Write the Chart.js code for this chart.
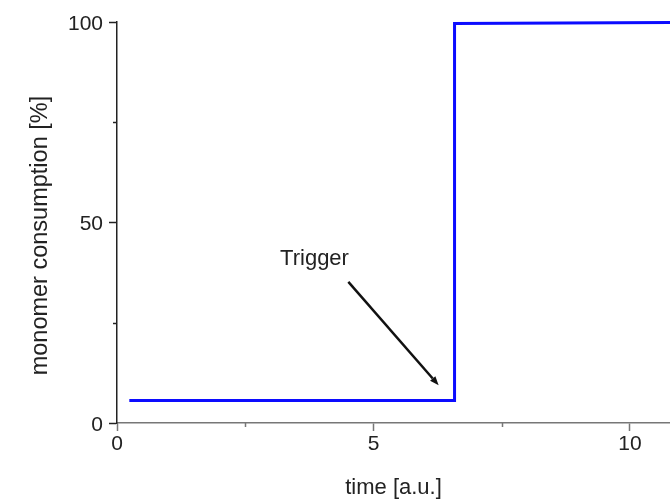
<!DOCTYPE html>
<html>
<head>
<meta charset="utf-8">
<script src="https://cdn.jsdelivr.net/npm/chart.js@4/dist/chart.umd.min.js"></script>
<style>
  html, body { margin: 0; padding: 0; background: #ffffff; }
  #wrap { width: 670px; height: 500px; position: relative; }
</style>
</head>
<body>
<div id="wrap"><canvas id="c"></canvas></div>
<script>
// ---- data ----
const timeValues = [0.24, 6.58, 6.58, 10.78];
const consumptionValues = [5.6, 5.6, 99.6, 99.9];
const xTickLabels = [0, 5, 10];
const yTickLabels = [0, 50, 100];
const xMinorTicks = [2.5, 7.5];
const yMinorTicks = [25, 75];
const annotationText = 'Trigger';
const annotationTextPos = [3.85, 40.9];
const arrowFrom = [4.51, 35.2];
const arrowTo = [6.27, 9.4];

const FONT = "'Liberation Sans', Arial, sans-serif";

const points = timeValues.map((t, i) => ({ x: t, y: consumptionValues[i] }));

const extras = {
  id: 'extras',
  afterDraw(chart) {
    const { ctx, scales: { x, y } } = chart;
    ctx.save();
    // minor ticks
    ctx.lineWidth = 1.5;
    ctx.strokeStyle = '#777777';
    xMinorTicks.forEach(v => {
      const px = Math.round(x.getPixelForValue(v)) + 0.5;
      ctx.beginPath();
      ctx.moveTo(px, y.bottom);
      ctx.lineTo(px, y.bottom + 4);
      ctx.stroke();
    });
    ctx.strokeStyle = '#222222';
    yMinorTicks.forEach(v => {
      const py = Math.round(y.getPixelForValue(v)) + 0.5;
      ctx.beginPath();
      ctx.moveTo(x.left, py);
      ctx.lineTo(x.left - 4, py);
      ctx.stroke();
    });
    // annotation text
    ctx.fillStyle = '#222222';
    ctx.font = '22px ' + FONT;
    ctx.textAlign = 'center';
    ctx.textBaseline = 'middle';
    ctx.fillText(annotationText, x.getPixelForValue(annotationTextPos[0]), y.getPixelForValue(annotationTextPos[1]));
    // arrow
    const x1 = x.getPixelForValue(arrowFrom[0]), y1 = y.getPixelForValue(arrowFrom[1]);
    const x2 = x.getPixelForValue(arrowTo[0]), y2 = y.getPixelForValue(arrowTo[1]);
    const ang = Math.atan2(y2 - y1, x2 - x1);
    const head = 9, hw = 3.5;
    const bx = x2 - head * Math.cos(ang), by = y2 - head * Math.sin(ang);
    ctx.strokeStyle = '#111111';
    ctx.lineWidth = 2.5;
    ctx.beginPath();
    ctx.moveTo(x1, y1);
    ctx.lineTo(bx, by);
    ctx.stroke();
    ctx.fillStyle = '#111111';
    ctx.beginPath();
    ctx.moveTo(x2, y2);
    ctx.lineTo(bx + hw * Math.sin(ang), by - hw * Math.cos(ang));
    ctx.lineTo(bx - hw * Math.sin(ang), by + hw * Math.cos(ang));
    ctx.closePath();
    ctx.fill();
    ctx.restore();
  }
};

new Chart(document.getElementById('c'), {
  type: 'line',
  data: {
    datasets: [{
      data: points,
      borderColor: '#0c0cff',
      borderWidth: 3,
      pointRadius: 0,
      fill: false,
      tension: 0,
      clip: false
    }]
  },
  options: {
    responsive: true,
    maintainAspectRatio: false,
    animation: false,
    devicePixelRatio: 1,
    layout: { padding: { top: 22, right: 0, left: 0, bottom: 0 } },
    plugins: { legend: { display: false }, tooltip: { enabled: false } },
    scales: {
      x: {
        type: 'linear',
        min: 0,
        max: 10.78,
        afterFit(scale) { scale.height = 77; },
        ticks: {
          stepSize: 5,
          includeBounds: false,
          autoSkip: false,
          maxRotation: 0,
          color: '#222222',
          padding: 1,
          font: { family: FONT, size: 21 },
          callback: v => (xTickLabels.includes(v) ? String(v) : '')
        },
        grid: {
          display: true,
          drawOnChartArea: false,
          drawTicks: true,
          tickLength: 8,
          tickWidth: 1.5,
          tickColor: '#777777'
        },
        border: { display: true, color: '#777777', width: 1.5 },
        title: {
          display: true,
          text: 'time [a.u.]',
          color: '#222222',
          font: { family: FONT, size: 22, lineHeight: 1.1 },
          padding: { top: 0, bottom: 0 }
        }
      },
      y: {
        type: 'linear',
        min: 0,
        max: 100,
        afterFit(scale) { scale.width = 117; },
        ticks: {
          stepSize: 50,
          autoSkip: false,
          color: '#222222',
          padding: 6,
          labelOffset: 2,
          font: { family: FONT, size: 21 },
          callback: v => (yTickLabels.includes(v) ? String(v) : '')
        },
        grid: {
          display: true,
          drawOnChartArea: false,
          drawTicks: true,
          tickLength: 8,
          tickWidth: 1.5,
          tickColor: '#222222'
        },
        border: { display: true, color: '#222222', width: 1.5 },
        title: {
          display: true,
          text: 'monomer consumption [%]    ',
          color: '#222222',
          font: { family: FONT, size: 23.5, lineHeight: 1.1 },
          padding: { top: 28, bottom: 0 }
        }
      }
    }
  },
  plugins: [extras]
});
</script>
</body>
</html>
